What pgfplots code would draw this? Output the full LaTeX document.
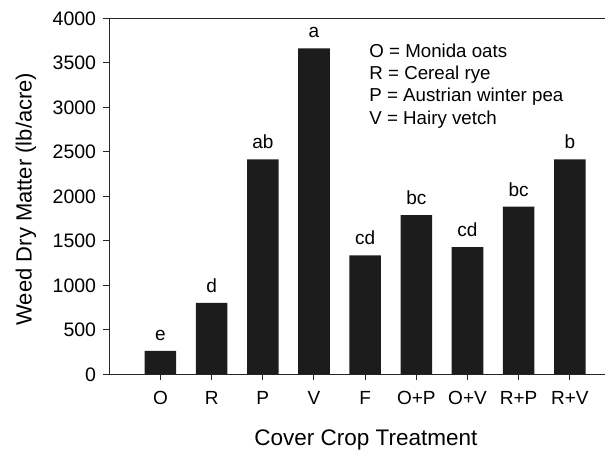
\documentclass[border=0pt]{standalone}
\usepackage{pgfplots}
\pgfplotsset{compat=1.18}
\usepackage{pgfplotstable}
\usepackage{fontspec}
\setmainfont{Liberation Sans}
\definecolor{barcol}{HTML}{1C1C1C}
\pgfplotstableread{
x y lab
0 265 e
1 804 d
2 2416 ab
3 3663 a
4 1337 cd
5 1790 bc
6 1430 cd
7 1883 bc
8 2416 b
}\datatable
\begin{document}
\begin{tikzpicture}
\begin{axis}[
  name=ax,
  scale only axis,
  width=511.6pt, height=356pt,
  xmin=-1, xmax=9,
  ymin=0, ymax=4000,
  axis line style={line width=1pt, black!85},
  xtick pos=bottom, ytick pos=left,
  tick align=outside,
  major tick length=6pt,
  tick style={line width=1pt, black!85},
  xtick={0,1,2,3,4,5,6,7,8},
  xticklabels={O,R,P,V,F,O+P,O+V,R+P,R+V},
  ytick={0,500,1000,1500,2000,2500,3000,3500,4000},
  /pgf/number format/assume math mode=true,
  /pgf/number format/1000 sep={},
  tick label style={font=\fontsize{19.5}{22}\selectfont},
  xticklabel style={yshift=-7.5pt, font=\fontsize{19}{22}\selectfont},
  yticklabel style={xshift=-3.7pt},
  xlabel={Cover Crop Treatment},
  ylabel={Weed Dry Matter (lb/acre)},
  xlabel style={font=\fontsize{22.5}{26}\selectfont, at={(axis description cs:0.5014,-0.1986)}, anchor=base},
  ylabel style={font=\fontsize{22}{26}\selectfont, at={(axis description cs:-0.1517,0.4924)}, anchor=base},
  ybar,
  bar width=0.616,
  clip=false,
]
\addplot[fill=barcol, draw=none,
  nodes near coords,
  point meta=explicit symbolic,
  every node near coord/.append style={anchor=base, yshift=10.5pt, text=black, font=\fontsize{19}{22}\selectfont, inner sep=0pt}]
  table[x=x, y=y, meta=lab] {\datatable};
\node[anchor=base west, inner sep=0pt, font=\fontsize{18.7}{22}\selectfont] at (rel axis cs:0.508,0.8904) {O = Monida oats};
\node[anchor=base west, inner sep=0pt, font=\fontsize{18.7}{22}\selectfont] at (rel axis cs:0.508,0.8295) {R = Cereal rye};
\node[anchor=base west, inner sep=0pt, font=\fontsize{18.7}{22}\selectfont] at (rel axis cs:0.508,0.7657) {P = Austrian winter pea};
\node[anchor=base west, inner sep=0pt, font=\fontsize{18.7}{22}\selectfont] at (rel axis cs:0.508,0.7031) {V = Hairy vetch};
\end{axis}
\pgfresetboundingbox
\path[use as bounding box] ([shift={(-109.3pt,-76.7pt)}]ax.south west) rectangle ([shift={(-16pt,18.3pt)}]ax.north east);
\end{tikzpicture}
\end{document}
